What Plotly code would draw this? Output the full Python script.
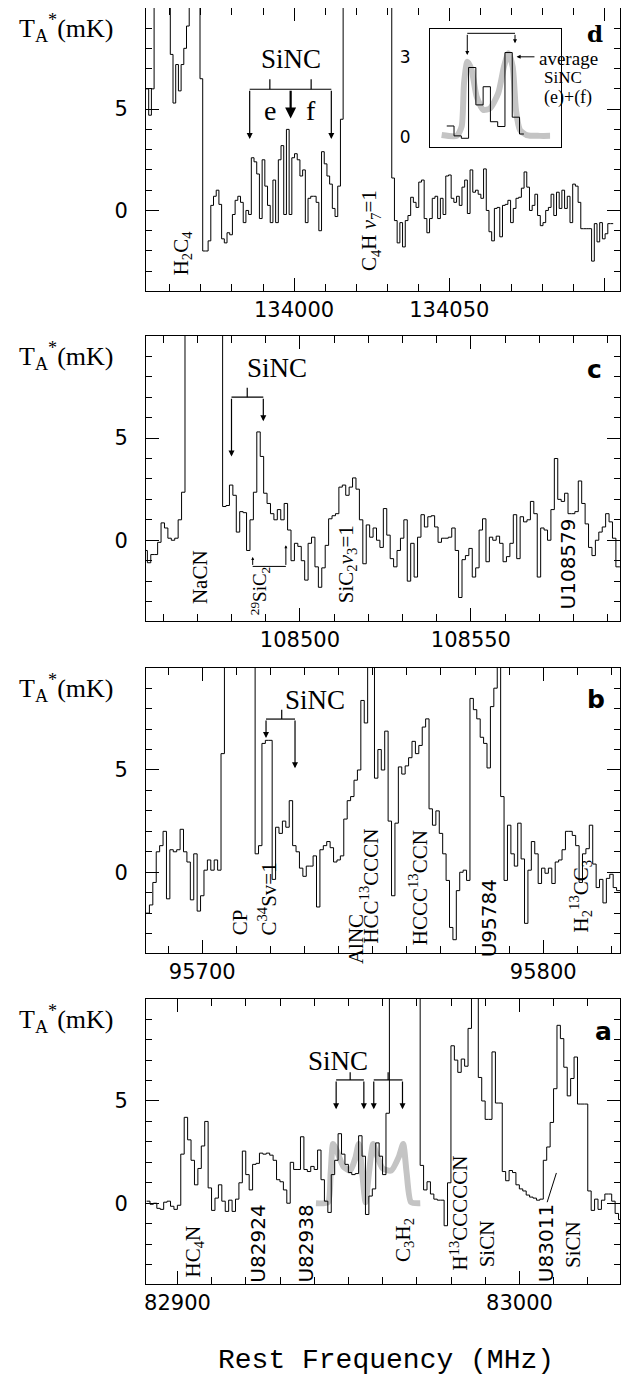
import plotly.graph_objects as go

# ---- spectra: first channel edge (MHz), channel width (MHz), T_A* (mK); 15 = off scale ----
d_f0, d_chan = 133952.3, 0.87
d_T = [6.0, 4.7, 6.0, 15, 15, 15, 15, 15, 15, 7.7,
       5.3, 7.2, 5.9, 7.2, 8.0, 9.1, 15, 15, 15, 15,
       6.5, -2.0, -2.0, -1.5, 0.25, 0.7, 1.0, 0.3, -1.4, -1.6,
       -1.1, -1.2, -0.2, 0.5, 0.7, 0.4, -0.6, 0.0, -0.2, 2.6,
       2.4, 1.8, -0.4, 2.5, 1.2, 0.25, -0.6, 1.5, -0.6, 2.5,
       3.2, -0.2, 4.0, -0.2, 2.6, 2.8, 2.5, 1.7, 2.0, -0.6,
       0.6, 0.7, 0.7, 0.4, -1.0, 2.9, 2.3, 1.7, 1.3, 0.1,
       -0.3, 1.2, 4.5,
       15, 15, 15, 15, 15, 15, 15, 15, 15, 15, 15, 15, 15, 15, 15, 15, 15, 15,
       1.6, -0.5, -1.6, -0.6, -1.8, -0.5, -0.25, 0.65, 0.4, 0.15,
       1.4, 1.5, -0.4, -1.1, -0.4, 0.6, 0.7, -0.4, 0.6, -0.2,
       1.7, 1.75, 0.6, 0.4, 0.7, 0.25, 1.15, 1.5, -0.15, 2.0,
       0.9, 1.0, 0.8, 0.6, 2.05, 0.0, -1.05, -1.5, 0.1, 0.15,
       -1.3, 0.25, 0.3, 0.5, -0.6, 0.1, 0.6, 0.65, 1.1, 1.9,
       1.15, 0.0, 0.25, 0.8, -0.25, -0.75, -0.6, 0.0, 0.15, 0.8,
       -0.25, 0.9, 0.1, 1.0, 0.1, 0.7, -0.6, 1.3, 1.2, 0.4,
       -0.9, -0.9, -0.9, -0.9, -2.5, -0.65, -1.55, -0.6, -1.4, -1.15,
       -0.65, -0.65]

c_f0, c_chan = 108454.4, 1.0
c_T = [-0.5, -1.1, -0.7, -0.7, -0.1, 0.85, 0.6, 0.1, 0.0, 0.1, 1.0, 2.35,
       15, 15, 15, 15, 15, 15, 15, 15, 15, 15, 15,
       1.65, 1.7, 2.7, 2.2, 0.4, 1.4, 1.35, -0.5, 1.0, 2.35,
       5.3, 4.1, 2.3, 1.8, 1.3, 1.0, 1.5, 1.0, 1.8, 0.5,
       -1.0, -0.15, -0.3, -1.0, -1.95, -0.15, 0.15, -1.3, -2.3, -1.35,
       -0.25, 1.05, 1.2, 1.3, 2.6, 2.7, 2.2, 2.6, 3.05, 2.5,
       1.0, -1.15, 0.75, 0.15, 0.6, 0.0, -0.35, 1.55, 0.25, -0.9,
       -1.3, -0.5, 0.1, 1.0, -2.0, -0.15, -1.8, 0.15, 1.25, 0.65,
       1.15, 1.2, 0.65, -0.1, 0.1, 0.1, 0.15, 0.6, -0.5, -2.8,
       -0.95, -0.75, -0.4, -1.8, -1.35, 0.5, 1.05, -1.05, 0.15, 0.0,
       0.2, -0.15, -1.05, -0.8, -0.15, 1.25, -0.9, 1.15, 0.9, 1.0,
       1.9, 1.3, -1.8, 0.6, 0.5, 0.0, 1.5, 4.0, 2.0, 1.9,
       2.3, 1.3, 1.3, 1.4, 2.9, 1.8, 0.8, -0.35, -0.75, 0.0,
       0.4, 0.65, 1.3, 0.9, 0.1, -1.3, -1.3]

b_f0, b_chan = 95683.5, 1.0
b_T = [-2.0, -1.6, -0.5, 1.0, 1.3, 2.0, -1.3, 1.1, 1.0, 1.1,
       2.1, 1.0, 0.5, -1.35, 0.9, -1.9, -1.15, 0.1, 0.6, 0.1,
       0.6, 0.1, 5.8, 15, 15, 15, 15, 15, 15, 15, 15, 15,
       0.9, 1.3, 6.3, 6.45, 6.45, -0.35, 2.2, 1.9, 2.5, 2.2,
       3.5, 1.3, 1.0, 0.2, -0.2, 0.3, 0.3, 0.8, -1.7, 1.1,
       1.3, 1.5, 1.2, 0.5, 0.6, 0.8, 2.6, 3.5, 3.7, 4.5,
       5.0, 8.4, 7.3, 10.5, 15, 4.6, 6.0, 5.0, 6.9, 2.5,
       -1.15, 2.4, 5.15, 4.8, 5.2, 5.6, 6.4, 5.8, 6.2, 7.1,
       7.5, 3.1, 2.3, 3.0, 1.9, 0.9, -0.4, -2.7, -3.3, -0.9,
       0.0, 0.1, -0.4, 8.5, 7.95, 7.5, 6.6, 6.3, 5.1, 8.1,
       9.0, 15, 3.7, -0.4, 2.3, 0.9, 0.3, 2.4, 0.65, -2.5,
       0.1, 1.5, 0.9, -0.55, 0.2, -0.05, 0.2, -0.55, 0.5, 0.6,
       1.1, 2.0, 2.0, 1.8, 1.3, -0.5, 0.9, 1.15, 2.3, 0.4,
       -0.75, -0.35, -1.5, -0.3, -0.1, -0.75, -0.9]

a_f0, a_chan = 82890.97, 1.0
a_T = [0.1, -0.05, 0.0, -0.25, -0.3, 0.05, 0.1, -0.15, -0.3, -0.1,
       2.4, 4.2, 3.1, 2.1, 0.9, 1.7, 2.8, 4.0, 0.75, -0.35,
       0.25, 0.9, 0.1, -0.4, 0.15, -0.4, 0.2, 1.0, 2.55, 1.4,
       0.65, 1.9, 1.95, 2.45, 2.4, 2.45, 2.35, 2.1, 1.15, 1.05,
       0.65, 0.0, 2.0, 1.65, 1.65, 3.25, 1.65, 1.55, 1.8, 1.65,
       2.6, 1.15, 0.1, -0.45, 1.4, 2.1, 3.4, 2.4, 1.9, 1.5,
       1.4, 1.45, 3.3, 2.3, -0.55, 0.35, 0.7, 2.95, 2.3, 1.4,
       4.4, 15, 15, 15, 15, 15, 15, 15, 15, 15,
       1.85, 0.65, 1.05, 0.45, 0.2, 0.15, 0.15, -1.1, 1.0, 7.7,
       7.0, 6.4, 7.05, 6.7, 8.55, 15, 15, 6.15, 5.0, 4.1,
       4.1, 7.4, 4.9, 4.9, 1.55, 1.1, 1.6, 1.5, 0.9, 0.7,
       0.6, 0.4, 0.3, 0.25, 0.15, 0.2, 2.1, 2.75, 3.95, 5.6,
       8.7, 8.05, 6.65, 5.25, 6.1, 7.15, 4.85, 4.85, 4.85, 0.6,
       -0.35, 0.2, -0.3, 0.15, 0.45, 0.45, 0.1, -0.5, -0.8]

# SiNC model profile drawn over panel a
a_model_f = [82940.5, 82944.0, 82944.8, 82945.5, 82946.5, 82948.5, 82950.5, 82952.0, 82953.0,
             82954.0, 82955.0, 82956.0, 82957.2, 82958.2, 82960.0, 82962.5, 82964.8, 82966.0,
             82967.0, 82968.3, 82971.0]
a_model_T = [0.0, 0.05, 1.5, 2.9, 2.6, 1.8, 1.6, 2.2, 2.9, 1.5, 0.05, 1.5, 2.9, 2.4, 1.7, 1.6,
             2.3, 2.9, 1.5, 0.05, 0.0]

# inset of panel d: average of (e)+(f), in channels
ins_edge0 = 2.3
ins_T = [0.41, 0.04, -0.05, 2.6, 1.2, 1.88, 0.57, 0.39, 3.16, 0.74, 0.11]
ins_model_x = [1.6, 3.67, 4.35, 4.67, 5.13, 5.72, 6.41, 7.33, 8.24, 9.38, 10.16, 10.76, 11.36,
               11.81, 12.36, 13.28, 15.1, 16.5]
ins_model_T = [0.07, 0.04, 0.39, 2.0, 2.82, 2.51, 1.51, 1.01, 1.07, 1.64, 2.63, 3.13, 2.63, 1.01,
               0.26, 0.07, 0.04, 0.04]

panels = {
    # key: (x id, y id, f0, chan, T, x range, label dtick, y domain)
    'a': ('x', 'y', a_f0, a_chan, a_T, [82890.8, 83029.4], 100, [0.0, 0.2234]),
    'b': ('x2', 'y2', b_f0, b_chan, b_T, [95683.5, 95822.5], 100, [0.2594, 0.4828]),
    'c': ('x3', 'y3', c_f0, c_chan, c_T, [108455.0, 108593.6], 50, [0.5196, 0.7429]),
    'd': ('x4', 'y4', d_f0, d_chan, d_T, [133952.3, 134105.0], 50, [0.7786, 1.0]),
}

SERIF = 'Liberation Serif'
SANS = 'DejaVu Sans'
BLACK = 'black'
GREY = '#c4c4c4'
MOL = 21   # molecule label size
ULAB = 20  # U-line label size

fig = go.Figure()
annotations = []
shapes = []


def steps(f0, chan, T):
    xs = [f0 + i * chan for i in range(len(T) + 1)]
    return xs, T + [T[-1]]


def text(ax, x, y, s, size=MOL, family=SERIF, angle=0, **kw):
    annotations.append(dict(xref=ax[0], yref=ax[1], x=x, y=y, text=s, showarrow=False,
                            textangle=angle, font=dict(family=family, size=size, color=BLACK), **kw))


def ptext(x, y, s, size, family=SERIF, xanchor='center'):
    annotations.append(dict(xref='paper', yref='paper', x=x, y=y, text=s, showarrow=False,
                            xanchor=xanchor, yanchor='middle',
                            font=dict(family=family, size=size, color=BLACK)))


def arrow(ax, x, y_tip, y_tail, width=1.2, head=2, size=1.0):
    annotations.append(dict(xref=ax[0], yref=ax[1], x=x, y=y_tip, axref=ax[0], ayref=ax[1],
                            ax=x, ay=y_tail, text='', showarrow=True, arrowhead=head,
                            arrowsize=size, arrowwidth=width, arrowcolor=BLACK))


def seg(ax, x0, y0, x1, y1, width=1.2):
    shapes.append(dict(type='line', xref=ax[0], yref=ax[1], x0=x0, y0=y0, x1=x1, y1=y1,
                       line=dict(color=BLACK, width=width)))


# model curve under spectrum a
fig.add_trace(go.Scatter(x=a_model_f, y=a_model_T, mode='lines', xaxis='x', yaxis='y',
                         line=dict(color=GREY, width=6, shape='spline', smoothing=0.6),
                         hoverinfo='skip', showlegend=False))

layout_axes = {}
for key, (xa, ya, f0, chan, T, xr, dt, ydom) in panels.items():
    xs, ys = steps(f0, chan, T)
    fig.add_trace(go.Scatter(x=xs, y=ys, mode='lines', xaxis=xa, yaxis=ya,
                             line=dict(color=BLACK, width=1, shape='hv'), showlegend=False))
    xname = 'xaxis' + xa[1:]
    yname = 'yaxis' + ya[1:]
    layout_axes[xname] = dict(
        domain=[0, 1], anchor=ya, range=xr, showgrid=False, zeroline=False,
        showline=True, linecolor=BLACK, linewidth=1, mirror='ticks',
        ticks='inside', ticklen=13, tickcolor=BLACK, tick0=0, dtick=dt, tickformat='d',
        minor=dict(ticks='inside', ticklen=7, dtick=10, tickcolor=BLACK),
        tickfont=dict(family=SANS, size=21, color=BLACK))
    layout_axes[yname] = dict(
        domain=ydom, anchor=xa, range=[-3.95, 9.99], showgrid=False, zeroline=False,
        showline=True, linecolor=BLACK, linewidth=1, mirror='ticks',
        ticks='inside', ticklen=13, tickcolor=BLACK, tick0=0, dtick=5,
        minor=dict(ticks='inside', ticklen=6, dtick=1, tickcolor=BLACK),
        tickfont=dict(family=SANS, size=21, color=BLACK), ticklabelstandoff=13)
    annotations.append(dict(xref=xa + ' domain', yref=ya + ' domain', x=-0.272, y=0.93,
                            xanchor='left', yanchor='middle', showarrow=False,
                            text='T<sub>A</sub><sup>*</sup>(mK)',
                            font=dict(family=SERIF, size=26, color=BLACK)))

# inset of panel d
ixs, iys = steps(ins_edge0, 1.0, ins_T)
fig.add_trace(go.Scatter(x=ins_model_x, y=ins_model_T, mode='lines', xaxis='x5', yaxis='y5',
                         line=dict(color=GREY, width=6, shape='spline', smoothing=0.6),
                         hoverinfo='skip', showlegend=False))
fig.add_trace(go.Scatter(x=ixs[:-1] + [12.9], y=iys, mode='lines', xaxis='x5', yaxis='y5',
                         line=dict(color=BLACK, width=1, shape='hv'), showlegend=False))
layout_axes['xaxis5'] = dict(domain=[0.5992, 0.8755], anchor='y5', range=[0, 18],
                             showgrid=False, zeroline=False, showline=True, linecolor=BLACK,
                             linewidth=1, mirror=True, ticks='', showticklabels=False)
layout_axes['yaxis5'] = dict(domain=[0.8911, 0.9835], anchor='x5', range=[-0.375, 4.04],
                             showgrid=False, zeroline=False, showline=True, linecolor=BLACK,
                             linewidth=1, mirror=True, ticks='', tickvals=[0, 3],
                             tickfont=dict(family=SANS, size=17, color=BLACK),
                             ticklabelstandoff=15)

I = ('x5', 'y5')
seg(I, 5.12, 3.88, 11.68, 3.88, 1)
arrow(I, 5.12, 3.07, 3.88, 1, head=2, size=0.8)
arrow(I, 11.68, 3.51, 3.88, 1, head=2, size=0.8)
annotations.append(dict(xref='x5', yref='y5', x=11.9, y=3.0, axref='x5', ayref='y5',
                        ax=14.56, ay=3.0, text='', showarrow=True, arrowhead=2, arrowsize=0.8,
                        arrowwidth=1, arrowcolor=BLACK))
ptext(0.8249, 0.9602, 'average', 19, xanchor='left')
ptext(0.8797, 0.9455, 'SiNC', 17)
ptext(0.8903, 0.9300, '(e)+(f)', 18)

# ---- panel d annotations ----
D = ('x4', 'y4')
text(D, 133998.9, 7.46, 'SiNC', size=27)
seg(D, 133985.7, 5.98, 134012.0, 5.98)
seg(D, 133992.2, 5.98, 133992.2, 6.48)
seg(D, 134005.5, 5.98, 134005.5, 6.48)
arrow(D, 133985.7, 3.52, 5.98)
arrow(D, 134012.0, 3.52, 5.98)
arrow(D, 133998.9, 4.54, 5.98, width=2.2)
text(D, 133992.2, 4.92, 'e', size=28)
text(D, 134005.5, 4.92, 'f', size=28)
text(D, 133963.8, -2.08, 'H<sub>2</sub>C<sub>4</sub>', angle=-90)
text(D, 134024.7, -0.98, 'C<sub>4</sub>H <i>ν</i><sub>7</sub>=1', angle=-90)
text(D, 134096.9, 8.72, '<b>d</b>', size=23, family='DejaVu Serif')

# ---- panel c annotations ----
C = ('x3', 'y3')
text(C, 108493.2, 8.44, 'SiNC', size=27)
seg(C, 108480.0, 7.0, 108489.3, 7.0)
seg(C, 108484.6, 7.0, 108484.6, 7.46)
arrow(C, 108480.0, 4.1, 7.0)
arrow(C, 108489.3, 5.82, 7.0)
seg(C, 108486.2, -1.28, 108495.9, -1.28, 1)
arrow(C, 108486.2, -0.82, -1.28, 1, size=0.6)
arrow(C, 108495.9, -0.25, -1.28, 1, size=0.6)
text(C, 108470.8, -1.8, 'NaCN', angle=-90)
text(C, 108488.3, -2.5, '<sup>29</sup>SiC<sub>2</sub>', angle=-90, size=19)
text(C, 108513.6, -1.15, 'SiC<sub>2</sub><i>ν</i><sub>3</sub>=1', angle=-90)
text(C, 108578.3, -1.15, 'U108579', angle=-90, family=SANS, size=ULAB)
text(C, 108586.1, 8.36, '<b>c</b>', size=25, family=SANS)

# ---- panel b annotations ----
B = ('x2', 'y2')
text(B, 95733.0, 8.44, 'SiNC', size=27)
seg(B, 95718.7, 7.49, 95727.2, 7.49)
seg(B, 95723.3, 7.49, 95723.3, 7.95)
arrow(B, 95718.7, 6.56, 7.49)
arrow(B, 95727.2, 5.08, 7.49)
text(B, 95711.0, -2.46, 'CP', angle=-90)
text(B, 95719.2, -1.3, 'C<sup>34</sup>Sv=1', angle=-90)
text(B, 95745.3, -3.28, 'AlNC', angle=-90)
text(B, 95749.2, -0.7, 'HCC<sup>13</sup>CCCN', angle=-90)
text(B, 95763.5, -0.74, 'HCCC<sup>13</sup>CCN', angle=-90)
text(B, 95784.1, -2.25, 'U95784', angle=-90, family=SANS, size=ULAB)
text(B, 95810.8, -1.18, 'H<sub>2</sub><sup>13</sup>CC<sub>3</sub>', angle=-90)
text(B, 95815.6, 8.44, '<b>b</b>', size=25, family=SANS)

# ---- panel a annotations ----
A = ('x', 'y')
text(A, 82947.0, 6.95, 'SiNC', size=27)
seg(A, 82946.4, 6.03, 82954.5, 6.03)
seg(A, 82950.5, 6.03, 82950.5, 6.4)
seg(A, 82957.4, 6.03, 82965.8, 6.03)
seg(A, 82961.6, 6.03, 82961.6, 6.4)
for f in [82946.4, 82954.5, 82957.4, 82965.8]:
    arrow(A, f, 4.59, 6.03)
text(A, 82904.7, -2.38, 'HC<sub>4</sub>N', angle=-90)
text(A, 82923.7, -2.0, 'U82924', angle=-90, family=SANS, size=ULAB)
text(A, 82937.3, -1.97, 'U82938', angle=-90, family=SANS, size=ULAB)
text(A, 82966.2, -1.8, 'C<sub>3</sub>H<sub>2</sub>', angle=-90)
text(A, 82982.2, -0.48, 'H<sup>13</sup>CCCCCN', angle=-90)
text(A, 82990.4, -1.98, 'SiCN', angle=-90)
text(A, 83007.6, -1.93, 'U83011', angle=-90, family=SANS, size=ULAB)
text(A, 83015.6, -2.0, 'SiCN', angle=-90)
seg(A, 83008.1, 0.05, 83010.8, 1.48, 1)
text(A, 83024.7, 8.4, '<b>a</b>', size=25, family=SANS)

ptext(0.506, -0.0596, 'Rest Frequency (MHz)', 28, family='Liberation Mono')

# the page body adds an 8 px offset, so the figure is 8 px smaller and shifted margins
fig.update_layout(width=622, height=1370, margin=dict(l=138, r=10, t=0, b=94),
                  paper_bgcolor='white', plot_bgcolor='white', showlegend=False,
                  annotations=annotations, shapes=shapes, **layout_axes)

fig.write_html("out.html")
